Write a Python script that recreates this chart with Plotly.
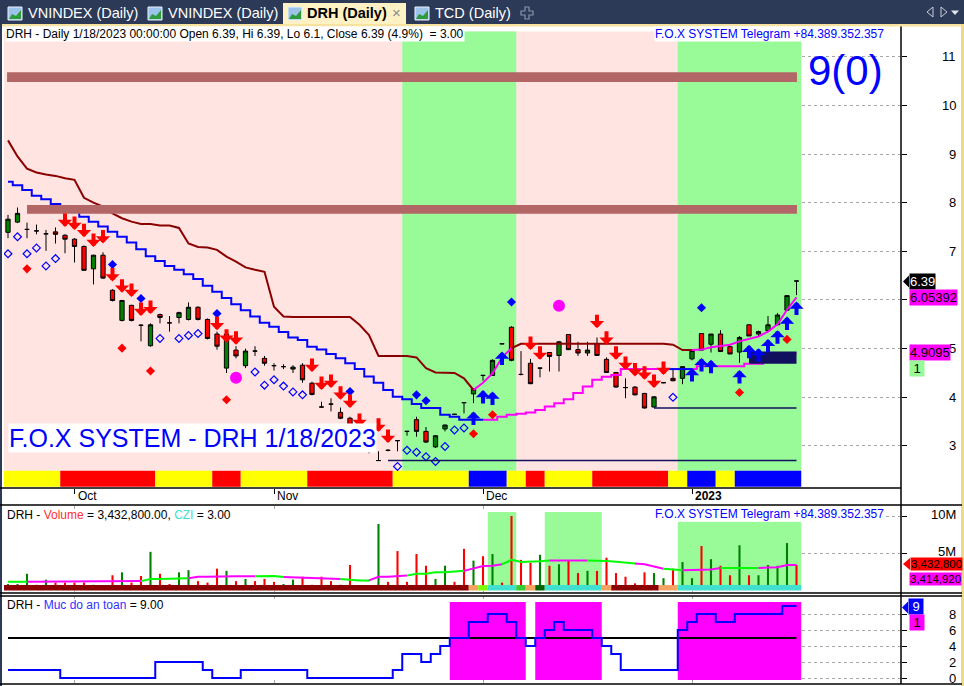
import plotly.graph_objects as go

W, H = 964, 686


def X(p):
    return p / W


def Y(p):
    return 1 - p / H


# ---------------- data ----------------
tick_bars = [7, 28, 50, 72]
tick_labels = ["Oct", "Nov", "Dec", "2023"]
price_ticks = [3, 4, 5, 6, 7, 8, 9, 10, 11]
price_tick_labels = ["3", "4", "5", "", "7", "8", "9", "10", "11"]  # "6" is hidden behind a value tag
volume_ticks = [5, 10]
volume_tick_labels = ["5M", "10M"]
safety_ticks = [0, 2, 4, 6, 8]

open_p = [7.39, 7.60, 7.45, 7.42, 7.36, 7.40, 7.33, 7.25, 7.10, 6.64,
          6.92, 6.20, 5.58, 5.89, 5.48, 5.06, 5.70, 5.53, 5.64, 5.60,
          5.85, 5.60, 5.30, 4.60, 4.97, 4.65, 4.95, 4.80, 4.65, 4.63,
          4.58, 4.66, 4.29, 3.80, 3.86, 3.69, 3.57, 3.45, 3.15, 2.70,
          2.91, 3.11, 3.30, 3.54, 3.30, 2.98, 3.35, 3.65, 3.89, 4.07,
          4.45, 4.45, 5.10, 5.44, 4.47, 4.70, 4.60, 4.92, 4.86, 5.29,
          4.98, 4.91, 5.10, 4.78, 4.51, 4.20, 4.21, 4.08, 3.80, 4.30,
          4.39, 4.39, 4.79, 5.31, 5.09, 5.30, 5.04, 4.93, 5.49, 5.30,
          5.37, 5.49, 5.79, 6.39]
high_p = [7.75, 7.90, 7.59, 7.55, 7.44, 7.49, 7.35, 7.27, 7.12, 6.93,
          6.98, 6.22, 6.00, 5.90, 5.50, 5.52, 5.72, 5.67, 5.76, 5.95,
          5.87, 5.62, 5.35, 5.38, 5.05, 5.00, 5.05, 4.85, 4.70, 4.68,
          4.66, 4.70, 4.32, 3.91, 3.98, 3.79, 3.60, 3.50, 3.20, 2.89,
          2.93, 3.11, 3.30, 3.60, 3.39, 3.22, 3.44, 3.66, 3.89, 4.18,
          4.45, 4.78, 5.11, 5.46, 4.95, 4.79, 4.60, 4.93, 5.16, 5.30,
          5.14, 5.14, 5.23, 4.82, 4.52, 4.39, 4.23, 4.09, 4.02, 4.31,
          4.60, 4.63, 4.98, 5.32, 5.30, 5.38, 5.05, 5.26, 5.50, 5.37,
          5.67, 5.73, 6.10, 6.39]
low_p = [7.27, 7.58, 7.27, 7.35, 7.01, 7.16, 6.96, 6.77, 6.60, 6.32,
         6.43, 5.97, 5.56, 5.56, 5.15, 5.04, 5.52, 5.35, 5.52, 5.58,
         5.58, 5.19, 4.98, 4.50, 4.80, 4.60, 4.85, 4.65, 4.55, 4.58,
         4.50, 4.30, 4.04, 3.80, 3.71, 3.55, 3.38, 3.20, 2.85, 2.70,
         2.89, 2.89, 3.21, 3.19, 3.06, 2.96, 3.30, 3.64, 3.67, 3.88,
         4.34, 4.44, 5.09, 4.74, 4.45, 4.27, 4.41, 4.53, 4.53, 4.97,
         4.85, 4.85, 4.85, 4.50, 4.20, 3.98, 4.04, 3.77, 3.79, 4.29,
         4.33, 4.27, 4.76, 4.96, 4.92, 4.94, 4.89, 4.71, 5.26, 5.25,
         5.36, 5.48, 5.78, 6.10]
close_p = [7.66, 7.78, 7.45, 7.42, 7.36, 7.35, 7.25, 7.10, 6.61, 6.92,
           6.45, 5.99, 5.99, 5.58, 5.48, 5.49, 5.64, 5.53, 5.74, 5.85,
           5.60, 5.21, 5.05, 5.30, 4.85, 4.95, 4.95, 4.70, 4.65, 4.63,
           4.62, 4.36, 4.06, 3.80, 3.86, 3.57, 3.40, 3.25, 2.90, 2.70,
           2.91, 3.11, 3.30, 3.30, 3.08, 3.21, 3.43, 3.65, 3.89, 4.17,
           4.45, 4.76, 5.10, 4.76, 4.47, 4.28, 4.60, 4.84, 5.14, 4.98,
           4.91, 4.97, 4.86, 4.51, 4.21, 4.20, 4.05, 3.78, 4.01, 4.30,
           4.34, 4.63, 4.96, 4.97, 5.30, 4.94, 4.89, 5.23, 5.26, 5.35,
           5.49, 5.69, 6.09, 6.39]

volume_m = [0.8, 0.8, 2.2, 0.7, 1.4, 1.0, 1.0, 1.0, 1.0, 0.7,
            0.5, 2.0, 2.4, 1.0, 1.9, 5.2, 2.2, 0.8, 2.4, 2.7,
            1.2, 1.0, 2.9, 2.6, 1.2, 1.5, 1.2, 1.5, 1.1, 0.8,
            1.4, 1.8, 0.7, 1.8, 1.2, 0.7, 3.4, 0.4, 0.3, 9.0,
            1.1, 5.3, 1.1, 4.9, 3.3, 1.5, 3.3, 1.1, 5.6, 4.0,
            4.6, 4.9, 1.0, 10.1, 4.1, 3.7, 4.8, 3.3, 3.5, 4.0,
            2.3, 2.6, 2.6, 4.4, 2.3, 1.8, 0.9, 2.4, 2.3, 1.6,
            2.9, 3.8, 1.6, 6.0, 4.2, 3.3, 2.0, 6.1, 2.0, 2.0,
            3.4, 3.3, 6.4, 3.4328]
volume_dir = ("GGGRGRRRRG" "RRGRRGRRGG" "RRRGRGRRRG" "GRRRRRRRRG" "RRRRRGGRRG"
              "RGRRRRGRGR" "RGRRRRRRGG" "RGGRGRRGRG" "GGGR")
volume_ma = [1.10, 1.10, 1.12, 1.12, 1.12, 1.12, 1.12, 1.12, 1.12, 1.12,
             1.12, 1.15, 1.18, 1.18, 1.20, 1.50, 1.50, 1.50, 1.55, 1.60,
             1.80, 1.80, 1.85, 1.85, 1.85, 1.85, 1.85, 1.90, 1.90, 1.75,
             1.70, 1.70, 1.70, 1.65, 1.50, 1.50, 1.35, 1.30, 1.30, 1.80,
             1.80, 1.90, 1.95, 2.20, 2.20, 2.40, 2.40, 2.45, 2.60, 2.90,
             3.25, 3.30, 3.50, 4.10, 3.80, 3.80, 3.90, 4.00, 4.00, 4.00,
             4.00, 4.00, 4.00, 3.95, 3.85, 3.75, 3.60, 3.50, 3.20, 2.90,
             2.80, 2.70, 2.70, 2.80, 2.80, 3.00, 3.00, 3.00, 3.00, 3.00,
             3.10, 3.10, 3.40, 3.4149]
volume_ma_dir = ("G" * 3 + "M" * 12 + "G" * 5 + "M" * 7 + "G" * 3 + "M" * 6 + "G" * 3 + "M" * 4
                 + "G" * 6 + "M" * 4 + "G" * 5 + "M" * 4 + "G" * 5 + "M" * 3 + "G" * 2
                 + "M" * 4 + "G" * 4 + "M" * 4)

trail_upper = [9.28, 8.95, 8.70, 8.62, 8.58, 8.55, 8.50, 8.47, 8.10, 8.00,
               7.92, 7.78, 7.68, 7.61, 7.56, 7.56, 7.53, 7.53, 7.48, 7.16,
               7.09, 7.08, 7.03, 6.89, 6.79, 6.67, 6.62, 6.58, 5.86, 5.66,
               5.65, 5.65, 5.65, 5.65, 5.65, 5.65, 5.65, 5.49, 5.28, 4.85,
               4.85, 4.85, 4.85, 4.82, 4.60, 4.51, 4.51, 4.50, 4.39, 4.15,
               4.30, 4.49, 4.82, 5.01, 5.10, 5.10, 5.10, 5.10, 5.10, 5.10,
               5.10, 5.10, 5.10, 5.10, 5.10, 5.10, 5.10, 5.10, 5.10, 5.10,
               5.08, 4.97, 4.97, 4.98, 5.03, 5.06, 5.08, 5.15, 5.20, 5.25,
               5.35, 5.50, 5.80, 6.05392]
trail_upper_dir = "D" * 50 + "U" * 4 + "D" * 19 + "U" * 11
trail_lower = [8.43, 8.36, 8.26, 8.14, 8.07, 7.97, 7.89, 7.89, 7.71, 7.61,
               7.51, 7.40, 7.30, 7.18, 7.04, 6.90, 6.80, 6.70, 6.62, 6.53,
               6.43, 6.29, 6.17, 6.04, 5.91, 5.79, 5.66, 5.53, 5.45, 5.34,
               5.23, 5.18, 5.04, 4.98, 4.89, 4.80, 4.70, 4.58, 4.43, 4.30,
               4.15, 4.01, 3.96, 3.86, 3.78, 3.78, 3.64, 3.60, 3.54, 3.54,
               3.54, 3.54, 3.60, 3.64, 3.66, 3.69, 3.74, 3.81, 3.88, 3.96,
               4.09, 4.22, 4.36, 4.42, 4.46, 4.58, 4.58, 4.58, 4.58, 4.58,
               4.58, 4.58, 4.58, 4.64, 4.64, 4.64, 4.64, 4.64, 4.69, 4.69,
               4.91, 4.91, 4.91, 4.9095]
trail_lower_dir = "D" * 51 + "U" * 19 + "D" * 3 + "U" * 11

safety = ([1] * 6 + [0] * 10 + [2] * 5 + [1] + [0] * 3 + [1] * 7 + [0] * 9 + [1] + [3, 3, 2, 3, 4, 5, 5, 7, 7, 8, 8, 7, 5, 4, 5, 6, 7, 6, 6, 6, 5, 4, 3]
          + [1] * 6 + [6, 7, 8, 8, 7, 7, 8, 8, 8, 8, 8, 9, 9])
safety_threshold = 5

trend_band = "Y" * 6 + "R" * 10 + "Y" * 6 + "R" * 3 + "Y" * 7 + "R" * 9 + "Y" * 8 + "B" * 4 + "YY" + "RR" + "Y" * 5 + "R" * 8 + "YY" + "BBB" + "YY" + "B" * 7
volume_band = "D" * 49 + "O" + "L" + "TTT" + "G" + "O" + "K" + "T" * 6 + "O" + "D" * 5 + "OO" + "T" * 13

green_zones_main = [(42, 53), (71, 83)]
green_zones_volume = [(51, 53, 10.63), (57, 62, 10.63), (71, 83, 9.3)]
safe_zones = [(47, 54), (56, 62), (71, 83)]
resistance_bands = [(10.48, 10.68), (7.77, 7.95)]
resistance_start = [-0.1, 2.0]
support_levels = [2.70, 3.78]
support_start = [40, 68]
box_bars = (78, 83)
box_prices = (4.69, 4.94)

sell_bars = [6, 7, 8, 9, 10, 11, 12, 13, 14, 15, 22, 23, 24, 32, 33, 34, 35, 36, 37, 39, 40,
             55, 56, 62, 63, 64, 65, 66, 67, 68, 69]
sell_tip = [7.50, 7.44, 7.29, 7.09, 7.16, 6.38, 6.15, 6.06, 5.67, 5.71, 5.38, 5.12, 5.08,
            4.52, 4.15, 4.19, 3.95, 3.78, 3.39, 3.29, 3.06,
            4.97, 4.77, 5.42, 5.08, 4.77, 4.56, 4.43, 4.36, 4.19, 4.46]
buy_bars = [49, 50, 51, 52, 72, 73, 74, 77, 78, 79, 80, 81, 82, 83]
buy_tip = [3.71, 4.15, 4.12, 4.94, 4.60, 4.81, 4.77, 4.56, 5.08, 5.01, 5.20, 5.38, 5.66, 5.97]
blue_dot_bars = [11, 14, 22, 36, 43, 44, 53, 73]
blue_dot_y = [6.73, 6.03, 5.72, 4.12, 4.05, 3.93, 5.96, 5.84]
red_dot_bars = [2, 12, 15, 23, 39, 49, 51, 77, 82]
red_dot_y = [6.64, 5.01, 4.54, 3.95, 2.08, 3.25, 3.64, 4.10, 5.19]
hollow_bars = [0, 1, 2, 3, 4, 5, 16, 18, 19, 20, 26, 27, 28, 29, 30, 31,
               41, 42, 43, 44, 45, 46, 47, 48, 70]
hollow_y = [6.95, 7.30, 6.95, 7.07, 6.70, 6.85, 5.21, 5.21, 5.27, 5.31, 4.52, 4.25, 4.36, 4.23, 4.11, 4.05,
            2.58, 2.91, 2.87, 2.78, 2.68, 2.99, 3.33, 3.37, 4.00]
circle_bars = [24, 58]
circle_y = [4.40, 5.88]

bars = list(range(len(close_p)))
n = len(bars)

# ---------------- styling ----------------
FONT = "Liberation Sans, Arial, sans-serif"
PINK = "#FFE4E1"
PGREEN = "#98FB98"
MAROON = "#8B0000"
BLUE = "#0000FF"
MAGENTA = "#FF00FF"
NAVY = "#10105E"
band_col = {"Y": "#FFFF00", "R": "#FF0000", "B": "#0000FF"}
vband_col = {"D": "#8B0000", "O": "#F4A460", "L": "#7CFC00", "T": "#40E0D0", "G": "#32CD32", "K": "#006400"}

fig = go.Figure()
shapes = []
ann = []


def runs(flags):
    out = []
    s = 0
    for i in range(1, len(flags) + 1):
        if i == len(flags) or flags[i] != flags[s]:
            out.append((flags[s], s, i - 1))
            s = i
    return out


# ---- background zones (main) ----
MAIN_TOP, MAIN_BOT = 11.52, 2.49
shapes.append(dict(type="rect", xref="x", yref="y", x0=-0.5, x1=n - 0.5, y0=MAIN_BOT, y1=MAIN_TOP,
                   fillcolor=PINK, line=dict(width=0), layer="between"))
for a, b in green_zones_main:
    shapes.append(dict(type="rect", xref="x", yref="y", x0=a - 0.5, x1=b + 0.5, y0=MAIN_BOT, y1=MAIN_TOP,
                       fillcolor=PGREEN, line=dict(width=0), layer="between"))
for f, s, e in runs(trend_band):
    shapes.append(dict(type="rect", xref="x", yref="y", x0=s - 0.5, x1=e + 0.5, y0=2.16, y1=MAIN_BOT,
                       fillcolor=band_col[f], line=dict(width=0), layer="between"))

# ---- volume panel zones ----
shapes.append(dict(type="rect", xref="x2", yref="y2", x0=-0.5, x1=n - 0.5, y0=-0.1, y1=10.63,
                   fillcolor="white", line=dict(width=0), layer="between"))
for a, b, top in green_zones_volume:
    shapes.append(dict(type="rect", xref="x2", yref="y2", x0=a - 0.5, x1=b + 0.5, y0=0, y1=top,
                       fillcolor=PGREEN, line=dict(width=0), layer="between"))
for f, s, e in runs(volume_band):
    shapes.append(dict(type="rect", xref="x2", yref="y2", x0=s - 0.5, x1=e + 0.5, y0=-0.08, y1=0.66,
                       fillcolor=vband_col[f], line=dict(width=0), layer="above"))

# ---- safety panel zones ----
shapes.append(dict(type="rect", xref="x3", yref="y3", x0=-0.5, x1=n - 0.5, y0=-0.25, y1=9.5,
                   fillcolor="white", line=dict(width=0), layer="between"))
for a, b in safe_zones:
    shapes.append(dict(type="rect", xref="x3", yref="y3", x0=a - 0.5, x1=b + 0.5, y0=-0.25, y1=9.5,
                       fillcolor=MAGENTA, line=dict(width=0), layer="between"))

# ---- main traces ----
fig.add_trace(go.Candlestick(
    x=bars, open=open_p, high=high_p, low=low_p, close=close_p,
    increasing=dict(fillcolor="#008000", line=dict(color="black", width=1)),
    decreasing=dict(fillcolor="#FF0000", line=dict(color="black", width=1)),
    whiskerwidth=0, xaxis="x", yaxis="y", hoverinfo="skip"))

for f, s, e in runs(trail_upper_dir):
    a = max(s - 1, 0)
    fig.add_trace(go.Scatter(x=bars[a:e + 1], y=trail_upper[a:e + 1], mode="lines",
                             line=dict(color=MAROON if f == "D" else MAGENTA, width=2),
                             xaxis="x", yaxis="y", hoverinfo="skip"))
for f, s, e in runs(trail_lower_dir):
    a = max(s - 1, 0)
    fig.add_trace(go.Scatter(x=bars[a:e + 1], y=trail_lower[a:e + 1], mode="lines",
                             line=dict(color=BLUE if f == "D" else MAGENTA, width=2, shape="hvh"),
                             xaxis="x", yaxis="y", hoverinfo="skip"))

fig.add_trace(go.Scatter(x=hollow_bars, y=hollow_y, mode="markers",
                         marker=dict(symbol="diamond-open", size=6, color=BLUE, line=dict(width=1.2)),
                         xaxis="x", yaxis="y", hoverinfo="skip"))
fig.add_trace(go.Scatter(x=blue_dot_bars, y=blue_dot_y, mode="markers",
                         marker=dict(symbol="diamond", size=7, color=BLUE),
                         xaxis="x", yaxis="y", hoverinfo="skip"))
fig.add_trace(go.Scatter(x=red_dot_bars, y=red_dot_y, mode="markers", cliponaxis=False,
                         marker=dict(symbol="diamond", size=7, color="#FF0000"),
                         xaxis="x", yaxis="y", hoverinfo="skip"))
fig.add_trace(go.Scatter(x=circle_bars, y=circle_y, mode="markers",
                         marker=dict(symbol="circle", size=12, color=MAGENTA),
                         xaxis="x", yaxis="y", hoverinfo="skip"))

# resistance bands, support lines, box
for (lo, hi), st in zip(resistance_bands, resistance_start):
    shapes.append(dict(type="rect", xref="x", yref="y", x0=st, x1=n - 0.95, y0=lo, y1=hi,
                       fillcolor="#B36666", line=dict(width=0), layer="above"))
for lvl, st in zip(support_levels, support_start):
    shapes.append(dict(type="line", xref="x", yref="y", x0=st, x1=n - 1, y0=lvl, y1=lvl,
                       line=dict(color=NAVY, width=1.5), layer="above"))
shapes.append(dict(type="rect", xref="x", yref="y", x0=box_bars[0], x1=box_bars[1], y0=box_prices[0],
                   y1=box_prices[1], fillcolor=NAVY, line=dict(width=0), layer="above"))

# ---- volume traces ----
fig.add_trace(go.Bar(x=bars, y=volume_m, width=0.22,
                     marker=dict(color=["#008000" if d == "G" else "#FF0000" for d in volume_dir], line=dict(width=0)),
                     xaxis="x2", yaxis="y2", hoverinfo="skip"))
for f, s, e in runs(volume_ma_dir):
    a = max(s - 1, 0)
    fig.add_trace(go.Scatter(x=bars[a:e + 1], y=volume_ma[a:e + 1], mode="lines",
                             line=dict(color="#00FF00" if f == "G" else MAGENTA, width=2),
                             xaxis="x2", yaxis="y2", hoverinfo="skip"))

# ---- safety traces ----
fig.add_trace(go.Scatter(x=[bars[0], bars[-1]], y=[safety_threshold, safety_threshold], mode="lines",
                         line=dict(color="black", width=2), xaxis="x3", yaxis="y3", hoverinfo="skip"))
fig.add_trace(go.Scatter(x=bars, y=safety, mode="lines", line=dict(color=BLUE, width=2, shape="hvh"),
                         xaxis="x3", yaxis="y3", hoverinfo="skip"))

# ---- arrows ----
for b, t in zip(sell_bars, sell_tip):
    ann.append(dict(x=b, y=t, xref="x", yref="y", text="", showarrow=True, arrowhead=1, arrowsize=0.6,
                    arrowwidth=4, arrowcolor="#FF0000", ax=0, ay=-15))
for b, t in zip(buy_bars, buy_tip):
    ann.append(dict(x=b, y=t, xref="x", yref="y", text="", showarrow=True, arrowhead=1, arrowsize=0.6,
                    arrowwidth=4, arrowcolor=BLUE, ax=0, ay=15))

# ---- texts in main panel ----
ann.append(dict(x=X(8), y=Y(438), xref="paper", yref="paper", xanchor="left", yanchor="middle",
                text="F.O.X SYSTEM - DRH 1/18/2023", showarrow=False, bgcolor="white", borderpad=0,
                font=dict(family=FONT, size=25, color=BLUE)))
ann.append(dict(x=X(5), y=Y(34), xref="paper", yref="paper", xanchor="left", yanchor="middle",
                text="DRH - Daily 1/18/2023 00:00:00 Open 6.39, Hi 6.39, Lo 6.1, Close 6.39 (4.9%)  = 3.00",
                showarrow=False, bgcolor="white", borderpad=0, font=dict(family=FONT, size=12, color="black")))
ann.append(dict(x=X(885), y=Y(34), xref="paper", yref="paper", xanchor="right", yanchor="middle",
                text="F.O.X SYSTEM Telegram +84.389.352.357", showarrow=False, bgcolor="white", borderpad=0,
                font=dict(family=FONT, size=12, color=BLUE)))
ann.append(dict(x=X(806), y=Y(70), xref="paper", yref="paper", xanchor="left", yanchor="middle",
                text="9(0)", showarrow=False, font=dict(family=FONT, size=42, color=BLUE)))

# volume / safety captions
ann.append(dict(x=X(5), y=Y(515), xref="paper", yref="paper", xanchor="left", yanchor="middle",
                text="DRH - <span style='color:#FF3030'>Volume</span> = 3,432,800.00, <span style='color:#40E0D0'>CZI</span> = 3.00",
                showarrow=False, font=dict(family=FONT, size=12, color="black")))
ann.append(dict(x=X(885), y=Y(514), xref="paper", yref="paper", xanchor="right", yanchor="middle",
                text="F.O.X SYSTEM Telegram +84.389.352.357", showarrow=False, bgcolor="white", borderpad=0,
                font=dict(family=FONT, size=12, color=BLUE)))
ann.append(dict(x=X(5), y=Y(605), xref="paper", yref="paper", xanchor="left", yanchor="middle",
                text="DRH - <span style='color:#3030FF'>Muc do an toan</span> = 9.00",
                showarrow=False, font=dict(family=FONT, size=12, color="black")))

# x-axis month labels
for b, lab in zip(tick_bars, tick_labels):
    ann.append(dict(x=b, y=Y(496), xref="x", yref="paper", xanchor="left", yanchor="middle", xshift=1,
                    text=("<b>%s</b>" % lab) if lab.isdigit() else lab, showarrow=False,
                    font=dict(family=FONT, size=12, color="black")))

# right-side tick labels
for v, lab in zip(price_ticks, price_tick_labels):
    if lab:
        ann.append(dict(x=X(958), y=v, xref="paper", yref="y", xanchor="right", yanchor="middle", text=lab,
                        showarrow=False, font=dict(family=FONT, size=13, color="black")))
for v, lab in zip(volume_ticks, volume_tick_labels):
    ann.append(dict(x=X(958), y=v, xref="paper", yref="y2", xanchor="right", yanchor="middle", text=lab,
                    yshift=2, showarrow=False, font=dict(family=FONT, size=13, color="black")))
for v in safety_ticks:
    ann.append(dict(x=X(958), y=v, xref="paper", yref="y3", xanchor="right", yanchor="middle", text=str(v),
                    showarrow=False, font=dict(family=FONT, size=13, color="black")))


# value tags on the right axis
def tag(y, yref, text, bg, fg, x_left=909, size=13, yshift=0):
    ann.append(dict(x=X(x_left), y=y, xref="paper", yref=yref, xanchor="left", yanchor="middle",
                    text=text, showarrow=False, bgcolor=bg, borderpad=0, yshift=yshift,
                    font=dict(family=FONT, size=size, color=fg)))


tag(close_p[-1], "y", "6.39", "black", "white")
tag(trail_upper[-1], "y", "6.05392", MAGENTA, "black")
tag(trail_lower[-1] + 0.02, "y", "4.9095", MAGENTA, "black")
ann.append(dict(x=X(909), y=Y(369), xref="paper", yref="paper", xanchor="left", yanchor="middle",
                text=" 1 ", showarrow=False, bgcolor=PGREEN, borderpad=0, font=dict(family=FONT, size=13, color="black")))
tag(volume_m[-1], "y2", "3,432,800", "#FF0000", "black", x_left=910, size=11.5, yshift=1)
ann.append(dict(x=X(909), y=Y(579), xref="paper", yref="paper", xanchor="left", yanchor="middle",
                text="3,414,920", showarrow=False, bgcolor=MAGENTA, borderpad=0, font=dict(family=FONT, size=11.5, color="black")))
tag(safety[-1], "y3", " 9 ", BLUE, "white", x_left=908)
ann.append(dict(x=X(909), y=Y(622), xref="paper", yref="paper", xanchor="left", yanchor="middle",
                text=" 1 ", showarrow=False, bgcolor=MAGENTA, borderpad=0, font=dict(family=FONT, size=13, color="black")))


def pointer(yc, color, x0=903, x1=909, h=6):
    shapes.append(dict(type="path", xref="paper", yref="paper",
                       path="M %f %f L %f %f L %f %f Z" % (X(x0), Y(yc), X(x1), Y(yc - h), X(x1), Y(yc + h)),
                       fillcolor=color, line=dict(width=0), layer="above"))


# ---- frame / tab bar ----
shapes += [
    dict(type="rect", xref="paper", yref="paper", x0=0, x1=1, y0=Y(24), y1=1, fillcolor="#2C3A58", line=dict(width=0), layer="above"),
    dict(type="rect", xref="paper", yref="paper", x0=X(283), x1=X(406), y0=Y(25), y1=Y(3), fillcolor="#FEF1C4", line=dict(width=0), layer="above"),
    dict(type="rect", xref="paper", yref="paper", x0=0, x1=1, y0=Y(26.5), y1=Y(24), fillcolor="#F8E2A0", line=dict(width=0), layer="above"),
    dict(type="rect", xref="paper", yref="paper", x0=X(961), x1=1, y0=0, y1=Y(24), fillcolor="#F3D58C", line=dict(width=0), layer="above"),
    dict(type="rect", xref="paper", yref="paper", x0=0, x1=X(2), y0=0, y1=Y(24), fillcolor="#2C3A58", line=dict(width=0), layer="above"),
]
for x0 in [8, 148, 288, 415]:
    shapes.append(dict(type="rect", xref="paper", yref="paper", x0=X(x0), x1=X(x0 + 14), y0=Y(20), y1=Y(7),
                       fillcolor="#9CC3EA", line=dict(color="#E8F1FA", width=1), layer="above"))
    shapes.append(dict(type="path", xref="paper", yref="paper",
                       path="M %f %f L %f %f L %f %f L %f %f L %f %f Z" % (
                           X(x0 + 1), Y(19), X(x0 + 4), Y(14), X(x0 + 8), Y(16), X(x0 + 13), Y(10), X(x0 + 13), Y(19)),
                       fillcolor="#2E9B3A", line=dict(width=0), layer="above"))
shapes.append(dict(type="path", xref="paper", yref="paper",
                   path="M %f %f L %f %f L %f %f L %f %f L %f %f L %f %f L %f %f L %f %f L %f %f L %f %f L %f %f L %f %f Z" % (
                       X(525), Y(7), X(529), Y(7), X(529), Y(11), X(533), Y(11), X(533), Y(15), X(529), Y(15),
                       X(529), Y(19), X(525), Y(19), X(525), Y(15), X(521), Y(15), X(521), Y(11), X(525), Y(11)),
                   fillcolor="rgba(0,0,0,0)", line=dict(color="#8A94A8", width=1.2), layer="above"))
shapes.append(dict(type="path", xref="paper", yref="paper",
                   path="M %f %f L %f %f L %f %f Z" % (X(927), Y(12), X(933), Y(7), X(933), Y(17)),
                   fillcolor="rgba(0,0,0,0)", line=dict(color="#C8CDD8", width=1), layer="above"))
shapes.append(dict(type="path", xref="paper", yref="paper",
                   path="M %f %f L %f %f L %f %f Z" % (X(947), Y(12), X(941), Y(7), X(941), Y(17)),
                   fillcolor="rgba(0,0,0,0)", line=dict(color="#C8CDD8", width=1), layer="above"))
shapes.append(dict(type="path", xref="paper", yref="paper",
                   path="M %f %f L %f %f L %f %f Z" % (X(951), Y(10.5), X(959), Y(10.5), X(955), Y(15)),
                   fillcolor="#E0E4EC", line=dict(width=0), layer="above"))

for x0, txt, col, bold in [(26, "VNINDEX (Daily)", "white", False), (166, "VNINDEX (Daily)", "white", False),
                           (305, "DRH (Daily)", "black", True), (433, "TCD (Daily)", "white", False)]:
    ann.append(dict(x=X(x0), y=Y(13.5), xref="paper", yref="paper", xanchor="left", yanchor="middle",
                    text=("<b>%s</b>" % txt) if bold else txt, showarrow=False,
                    font=dict(family=FONT, size=14.5, color=col)))
ann.append(dict(x=X(396), y=Y(13), xref="paper", yref="paper", xanchor="center", yanchor="middle",
                text="×", showarrow=False, font=dict(family=FONT, size=15, color="#8C8C8C")))

for yy, x1 in [(488, 901), (505, 962), (593, 962), (596, 962), (684, 962)]:
    shapes.append(dict(type="line", xref="paper", yref="paper", x0=0, x1=X(x1), y0=Y(yy), y1=Y(yy),
                       line=dict(color="black", width=1.5), layer="above"))
shapes.append(dict(type="line", xref="paper", yref="paper", x0=X(901), x1=X(901), y0=Y(684), y1=Y(26.5),
                   line=dict(color="black", width=1.5), layer="above"))

pointer(281.5, "black")
pointer(564, "#FF0000", x0=903, x1=910)
pointer(607.5, BLUE, x0=902, x1=908)

# ---------------- layout ----------------
XR = [-0.421, 94.0]
XD = [X(4), X(901)]
grid = dict(showgrid=True, gridcolor="#A8A8A8", griddash="dot", gridwidth=1)
fig.update_layout(
    width=W, height=H, margin=dict(l=0, r=0, t=0, b=0),
    paper_bgcolor="white", plot_bgcolor="white", showlegend=False,
    font=dict(family=FONT), boxgap=0.36,
    xaxis=dict(domain=XD, range=XR, anchor="y", showgrid=False, zeroline=False,
               tickvals=tick_bars, ticktext=[""] * len(tick_bars), ticks="outside", ticklen=5,
               tickcolor="black", showline=False, rangeslider=dict(visible=False), fixedrange=True),
    yaxis=dict(domain=[Y(488), Y(27)], range=[2.136, 11.610], anchor="x", side="right",
               tickvals=price_ticks, showticklabels=False, ticks="outside", ticklen=5, tickcolor="black",
               zeroline=False, fixedrange=True, **grid),
    xaxis2=dict(domain=XD, range=XR, anchor="y2", matches="x", tickvals=tick_bars, showticklabels=False,
                zeroline=False, **grid),
    yaxis2=dict(domain=[Y(592), Y(506)], range=[-0.287, 11.46], anchor="x2", side="right",
                tickvals=volume_ticks, showticklabels=False, ticks="outside", ticklen=5, tickcolor="black",
                zeroline=False, **grid),
    xaxis3=dict(domain=XD, range=XR, anchor="y3", matches="x", tickvals=tick_bars, showticklabels=False,
                zeroline=False, **grid),
    yaxis3=dict(domain=[Y(684), Y(596)], range=[-0.75, 10.25], anchor="x3", side="right",
                tickvals=safety_ticks, showticklabels=False, ticks="outside", ticklen=5, tickcolor="black",
                zeroline=False, **grid),
    shapes=shapes, annotations=ann,
)

fig.write_html("out.html", config={"displayModeBar": False},
               post_script="document.body.style.margin='0px';document.body.style.overflow='hidden';")
